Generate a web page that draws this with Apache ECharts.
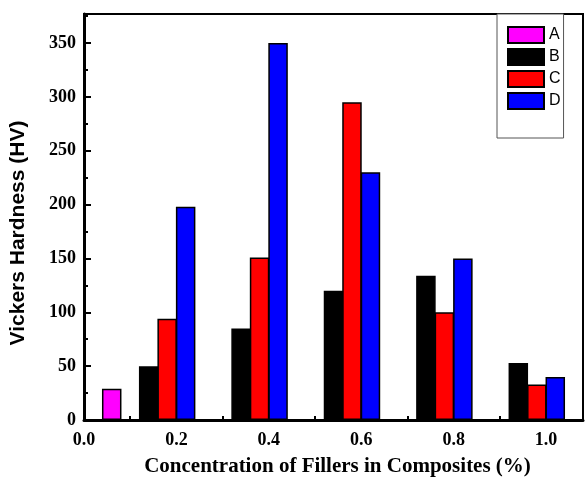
<!DOCTYPE html>
<html>
<head>
<meta charset="utf-8">
<script src="https://cdn.jsdelivr.net/npm/echarts@6/dist/echarts.min.js"></script>
<style>html,body{margin:0;padding:0;background:#fff}#c{width:585px;height:482px}</style>
</head>
<body>
<div id="c"></div>
<script>
// Data
var seriesNames = ['A', 'B', 'C', 'D'];
var xA = [0.06];
var yA = [29];
var xB = [0.14, 0.34, 0.54, 0.74, 0.94];
var yB = [50, 85, 120, 134, 53];
var xC = [0.18, 0.38, 0.58, 0.78, 0.98];
var yC = [94, 151, 295, 100, 33];
var xD = [0.22, 0.42, 0.62, 0.82, 1.02];
var yD = [198, 350, 230, 150, 40];
var colors = ['#ff00ff', '#000000', '#ff0000', '#0000ff'];

function pairs(xs, ys) { return xs.map(function (x, i) { return [x, ys[i]]; }); }
var allData = [pairs(xA, yA), pairs(xB, yB), pairs(xC, yC), pairs(xD, yD)];

var chart = echarts.init(document.getElementById('c'), null, {renderer: 'canvas'});
var serif = 'Liberation Serif';
var sans = 'Liberation Sans';

var series = seriesNames.map(function (n, i) {
  return {
    name: n,
    type: 'bar',
    data: allData[i],
    barWidth: 19.5,
    barGap: '-100%',
    itemStyle: {color: colors[i], borderColor: '#000', borderWidth: 1.5},
    emphasis: {disabled: true}
  };
});

chart.setOption({
  animation: false,
  backgroundColor: '#fff',
  grid: {left: 82, right: 2, top: 14, bottom: 62, show: true, borderColor: '#000', borderWidth: 2, backgroundColor: 'transparent'},
  legend: {
    orient: 'vertical', left: 497, top: 14,
    itemWidth: 36, itemHeight: 16, itemGap: 4,
    padding: [12, 3, 28, 10],
    borderColor: '#555', borderWidth: 1, backgroundColor: '#fff',
    icon: 'rect',
    textStyle: {fontFamily: sans, fontSize: 16, color: '#000'},
    data: seriesNames
  },
  xAxis: {
    type: 'value', min: 0, max: 1.08, interval: 0.2,
    name: 'Concentration of Fillers in Composites (%)',
    nameLocation: 'middle', nameGap: 36,
    nameTextStyle: {fontFamily: serif, fontWeight: 'bold', fontSize: 21, color: '#000', padding: [0, 0, 0, 8]},
    axisLine: {show: true, lineStyle: {color: '#000', width: 3}},
    axisTick: {show: true, inside: true, length: 6, lineStyle: {color: '#000', width: 2}},
    minorTick: {show: true, splitNumber: 2, length: 4, lineStyle: {color: '#000', width: 2}},
    splitLine: {show: false},
    axisLabel: {
      fontFamily: serif, fontWeight: 'bold', fontSize: 18, color: '#000', margin: 11,
      showMaxLabel: false,
      formatter: function (v) { return Math.abs(v * 5 - Math.round(v * 5)) < 1e-6 ? v.toFixed(1) : ''; }
    }
  },
  yAxis: {
    type: 'value', min: 0, max: 377, interval: 50,
    name: 'Vickers Hardness (HV)',
    nameLocation: 'middle', nameGap: 55,
    nameTextStyle: {fontFamily: sans, fontWeight: 'bold', fontSize: 21, color: '#000', padding: [0, 32, 0, 0]},
    axisLine: {show: true, lineStyle: {color: '#000', width: 3}},
    axisTick: {show: true, inside: true, length: 7, lineStyle: {color: '#000', width: 2}},
    minorTick: {show: true, splitNumber: 2, length: 4, lineStyle: {color: '#000', width: 2}},
    splitLine: {show: false},
    axisLabel: {
      fontFamily: serif, fontWeight: 'bold', fontSize: 18, color: '#000', margin: 8,
      showMaxLabel: false,
      formatter: function (v) { return v % 50 === 0 ? String(v) : ''; }
    }
  },
  series: series
});
</script>
</body>
</html>
